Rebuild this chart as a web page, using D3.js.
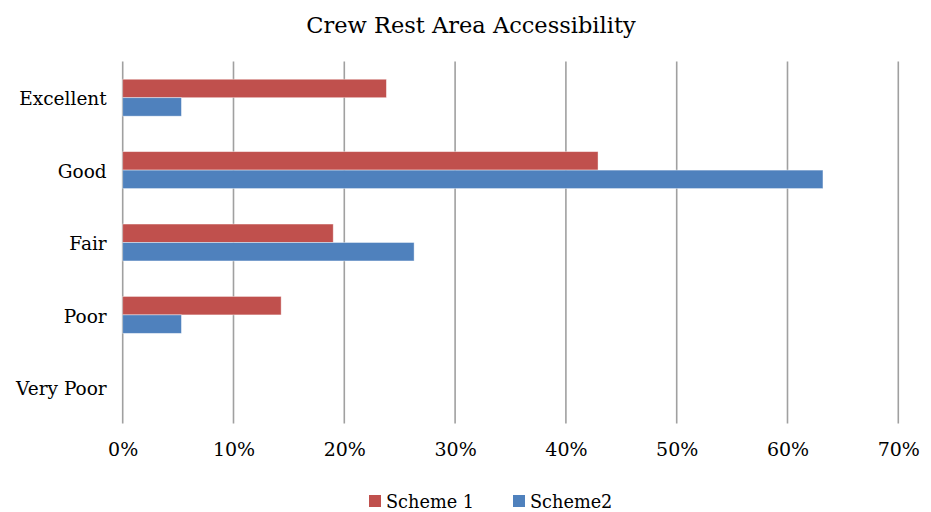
<!DOCTYPE html>
<html>
<head>
<meta charset="utf-8">
<script src="https://cdn.jsdelivr.net/npm/d3@7"></script>
<style>
  body { margin: 0; background: #fff; }
  svg text { font-family: "DejaVu Serif", serif; fill: #000; }
</style>
</head>
<body>
<svg id="chart" width="931" height="512"></svg>
<script>
// Survey responses: share of respondents per rating
const categories = ["Excellent", "Good", "Fair", "Poor", "Very Poor"];
const seriesNames = ["Scheme 1", "Scheme2"];
const scheme1 = [0.238, 0.429, 0.190, 0.143, 0];
const scheme2 = [0.053, 0.632, 0.263, 0.053, 0];
const tickValues = [0, 0.1, 0.2, 0.3, 0.4, 0.5, 0.6, 0.7];
const colors = ["#C0504D", "#4F81BD"];

const svg = d3.select("#chart");
const plot = { left: 122.7, right: 898.3, top: 61.5, bottom: 423.5 };

const x = d3.scaleLinear().domain([0, 0.7]).range([plot.left, plot.right]);
const y = d3.scaleBand().domain(categories).range([plot.top, plot.bottom])
  .paddingInner(0.49).paddingOuter(0.245);
const ySub = d3.scaleBand().domain(seriesNames).range([0, y.bandwidth()]);

// Title
svg.append("text")
  .attr("x", 471).attr("y", 33)
  .attr("text-anchor", "middle")
  .style("font-size", "22.5px")
  .text("Crew Rest Area Accessibility");

// Vertical gridlines
svg.append("g").selectAll("line").data(tickValues).join("line")
  .attr("x1", d => x(d)).attr("x2", d => x(d))
  .attr("y1", plot.top).attr("y2", plot.bottom)
  .attr("stroke", "#a0a0a0").attr("stroke-width", 1.6);

// Bars
const rows = categories.map((c, i) => ({ cat: c, vals: [scheme1[i], scheme2[i]] }));
const groups = svg.append("g").selectAll("g").data(rows).join("g")
  .attr("transform", d => `translate(0,${y(d.cat)})`);
groups.selectAll("rect")
  .data(d => d.vals.map((v, k) => ({ v, name: seriesNames[k], k })))
  .join("rect")
  .filter(d => d.v > 0)
  .attr("x", x(0))
  .attr("y", d => ySub(d.name))
  .attr("width", d => x(d.v) - x(0))
  .attr("height", ySub.bandwidth())
  .attr("fill", d => colors[d.k])
  .attr("stroke", "rgba(255,255,255,0.5)")
  .attr("stroke-width", 0.8);

// X axis labels
const xAxis = d3.axisBottom(x).tickValues(tickValues)
  .tickFormat(d3.format(".0%")).tickSize(0).tickPadding(0);
const gx = svg.append("g").attr("transform", `translate(0,442)`).call(xAxis);
gx.select(".domain").remove();
gx.selectAll("text").style("font-size", "19px").attr("dy", "0.71em").attr("y", 0)
  .style("font-family", "'DejaVu Serif', serif");

// Y axis labels
const yAxis = d3.axisLeft(y).tickSize(0).tickPadding(16);
const gy = svg.append("g").attr("transform", `translate(${plot.left},0)`).call(yAxis);
gy.select(".domain").remove();
gy.selectAll("text").style("font-size", "18.5px").attr("dy", "0.42em")
  .style("font-family", "'DejaVu Serif', serif");

// Legend
const legendItems = [
  { name: seriesNames[0], color: colors[0], x: 369 },
  { name: seriesNames[1], color: colors[1], x: 513 }
];
const lg = svg.append("g").selectAll("g").data(legendItems).join("g")
  .attr("transform", d => `translate(${d.x},495)`);
lg.append("rect").attr("width", 12).attr("height", 12).attr("fill", d => d.color);
lg.append("text").attr("x", 17).attr("y", 12.5)
  .style("font-size", "17.7px").text(d => d.name);
</script>
</body>
</html>
